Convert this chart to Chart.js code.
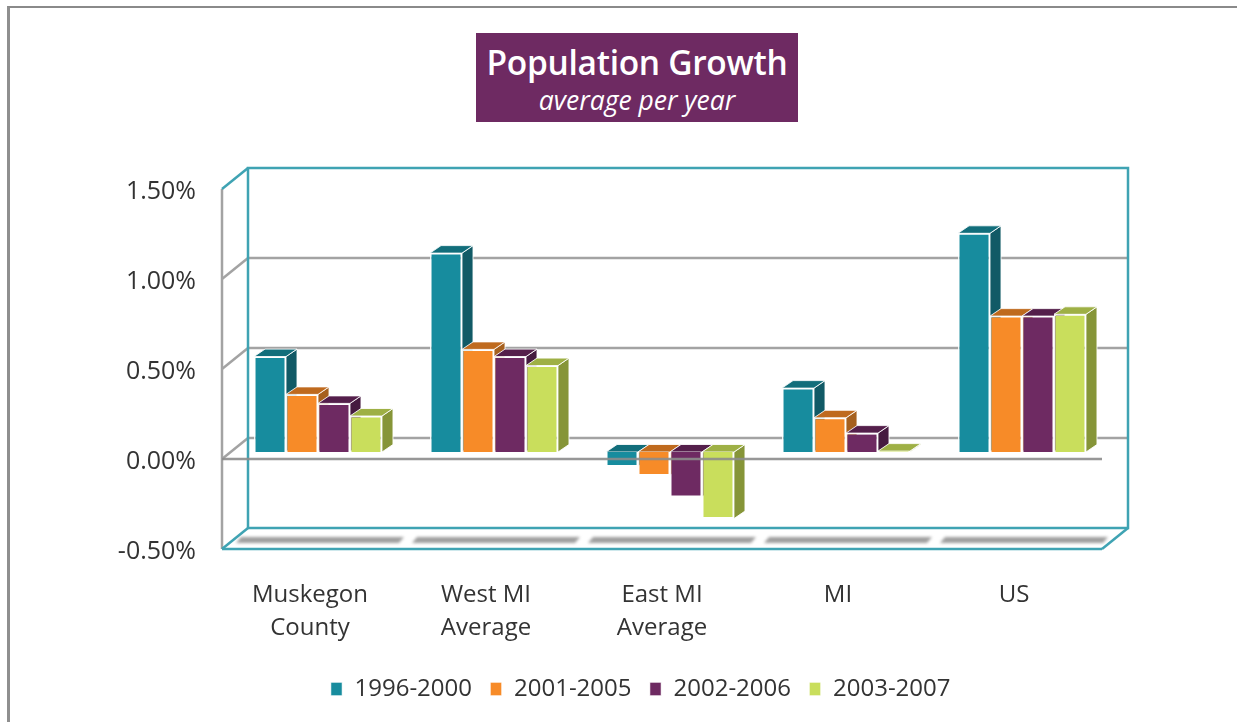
<!DOCTYPE html>
<html>
<head>
<meta charset="utf-8">
<title>Population Growth</title>
<script src="https://cdn.jsdelivr.net/npm/chart.js@4"></script>
<style>
    html, body { margin: 0; padding: 0; background: #fff; overflow: hidden; }
    #page { position: relative; width: 1237px; height: 722px; overflow: hidden; }
    #page canvas { position: absolute; left: 0; top: 0; }
    #edge { position: absolute; left: 7px; top: 6px; width: 1240px; height: 730px; border-left: 3px solid #8f8f8f; border-top: 2px solid #8a8a8a; }
    #title { position: absolute; left: 476px; top: 33px; width: 322px; height: 89px; background: #6e2a62; color: #fff; text-align: center; font-family: "Open Sans", sans-serif; }
    #title b { display: block; font-size: 33.5px; line-height: 38px; margin-top: 10px; letter-spacing: -0.3px; font-weight: 600; }
    #title i { display: block; font-size: 26.5px; line-height: 32px; margin-top: 3px; }
</style>
</head>
<body>
<div id="page">
    <div id="edge"></div>
    <div id="title"><b>Population Growth</b><i>average per year</i></div>
    <canvas id="growthChart" width="1237" height="722"></canvas>
</div>
<script>
const categories = [['Muskegon', 'County'], ['West MI', 'Average'], ['East MI', 'Average'], ['MI'], ['US']];
const periods = ['1996-2000', '2001-2005', '2002-2006', '2003-2007'];
const values1996 = [0.53, 1.105, -0.08, 0.355, 1.215];
const values2001 = [0.32, 0.57, -0.13, 0.19, 0.755];
const values2002 = [0.27, 0.53, -0.25, 0.105, 0.755];
const values2003 = [0.20, 0.48, -0.37, 0.005, 0.765];

const fronts = ['#178c9e', '#f78b28', '#6e2a62', '#c9de5c'];
const tops = ['#126e7b', '#bf6a1e', '#541f4b', '#9eb045'];
const sides = ['#115a66', '#a6601e', '#451a40', '#869538'];

const teal = '#3fa3b3';
const grey = '#a3a3a3';

// the bars stand in the middle of the box, so front and back are offset from them
const depth = { dx: 11, dy: 7.5 };
const front = { dx: -8, dy: 7 };
const back = { dx: 18, dy: -14 };

function line(ctx, x1, y1, x2, y2, color, width) {
    ctx.beginPath();
    ctx.moveTo(x1, y1);
    ctx.lineTo(x2, y2);
    ctx.strokeStyle = color;
    ctx.lineWidth = width;
    ctx.stroke();
}

function poly(ctx, points, color) {
    ctx.beginPath();
    points.forEach((p, i) => i ? ctx.lineTo(p[0], p[1]) : ctx.moveTo(p[0], p[1]));
    ctx.closePath();
    ctx.fillStyle = color;
    ctx.fill();
    ctx.strokeStyle = 'rgba(255,255,255,0.85)';
    ctx.lineWidth = 1;
    ctx.stroke();
}

const boxPlugin = {
    id: 'box3d',
    beforeDatasetsDraw(chart) {
        const ctx = chart.ctx;
        const xs = chart.scales.x;
        const ys = chart.scales.y;
        const left = xs.left, right = xs.right;
        const high = ys.getPixelForValue(ys.max), low = ys.getPixelForValue(ys.min);
        ctx.save();

        // grid on back wall and left wall, top and bottom are done in teal below
        ys.ticks.forEach((tick) => {
            const y = ys.getPixelForValue(tick.value);
            if (tick.value !== ys.max && tick.value !== ys.min) {
                line(ctx, left + back.dx, y + back.dy, right + back.dx, y + back.dy, grey, 2.5);
                line(ctx, left + front.dx, y + front.dy, left + back.dx, y + back.dy, grey, 2.5);
            }
        });
        line(ctx, left + front.dx, high + front.dy, left + front.dx, low + front.dy, grey, 2.5);

        // floor shadows
        ctx.save();
        ctx.filter = 'blur(1.5px)';
        categories.forEach((c, i) => {
            const cx = xs.getPixelForValue(i) + 2;
            ctx.beginPath();
            ctx.moveTo(cx - 84, low + 1);
            ctx.lineTo(cx - 79, low - 5);
            ctx.lineTo(cx + 84, low - 5);
            ctx.lineTo(cx + 79, low + 1);
            ctx.closePath();
            ctx.fillStyle = '#9f9f9f';
            ctx.fill();
        });
        ctx.restore();

        // back wall and floor outline
        ctx.lineJoin = 'miter';
        ctx.strokeStyle = teal;
        ctx.lineWidth = 2.5;
        ctx.strokeRect(left + back.dx, high + back.dy, right - left, low - high);
        line(ctx, left + front.dx, high + front.dy, left + back.dx, high + back.dy, teal, 2.5);
        line(ctx, left + front.dx, low + front.dy, left + back.dx, low + back.dy, teal, 2.5);
        line(ctx, left + front.dx, low + front.dy, right + front.dx, low + front.dy, teal, 2.5);
        line(ctx, right + front.dx, low + front.dy, right + back.dx, low + back.dy, teal, 2.5);

        // top and side faces, front faces come from the bars themselves
        chart.data.datasets.forEach((set, d) => {
            chart.getDatasetMeta(d).data.forEach((bar) => {
                const l = bar.x - bar.width / 2, r = bar.x + bar.width / 2;
                const upper = Math.min(bar.y, bar.base), lower = Math.max(bar.y, bar.base);
                poly(ctx, [[r, upper], [r + depth.dx, upper - depth.dy], [r + depth.dx, lower - depth.dy], [r, lower]], sides[d]);
                poly(ctx, [[l, upper], [l + depth.dx, upper - depth.dy], [r + depth.dx, upper - depth.dy], [r, upper]], tops[d]);
            });
        });
        ctx.restore();
    },
    afterDatasetsDraw(chart) {
        // the front zero line passes over the negative bars
        const ys = chart.scales.y;
        const xs = chart.scales.x;
        const y = ys.getPixelForValue(0) + front.dy;
        chart.ctx.save();
        line(chart.ctx, xs.left + front.dx, y, xs.right + front.dx, y, 'rgba(140,140,140,0.9)', 2.5);
        chart.ctx.restore();
    }
};

function makeSet(label, values, i) {
    return {
        label: label,
        data: values,
        backgroundColor: fronts[i],
        borderColor: 'rgba(255,255,255,0.9)',
        borderWidth: 1.5,
        categoryPercentage: 0.727,
        barPercentage: 1
    };
}

const fontFace = { family: '"Open Sans", sans-serif', size: 24 };

new Chart(document.getElementById('growthChart'), {
    type: 'bar',
    data: {
        labels: categories,
        datasets: [
            makeSet(periods[0], values1996, 0),
            makeSet(periods[1], values2001, 1),
            makeSet(periods[2], values2002, 2),
            makeSet(periods[3], values2003, 3)
        ]
    },
    plugins: [boxPlugin],
    options: {
        responsive: false,
        animation: false,
        layout: { padding: { left: 44, right: 0, top: 182, bottom: 11 } },
        plugins: {
            tooltip: { enabled: false },
            legend: {
                position: 'bottom',
                labels: {
                    color: '#333',
                    font: fontFace,
                    boxWidth: 12,
                    boxHeight: 14,
                    padding: 18
                }
            }
        },
        scales: {
            x: {
                grid: { display: false },
                border: { display: false },
                ticks: {
                    color: '#333',
                    font: Object.assign({ lineHeight: 1.4 }, fontFace),
                    padding: 28,
                    labelOffset: -8,
                    maxRotation: 0,
                    autoSkip: false
                },
                afterFit(scale) { scale.height = 117; }
            },
            y: {
                min: -0.5,
                max: 1.5,
                grid: { display: false },
                border: { display: false },
                ticks: {
                    stepSize: 0.5,
                    color: '#333',
                    font: { family: '"Open Sans", sans-serif', size: 25 },
                    padding: 26,
                    labelOffset: 9.5,
                    callback: (v) => v.toFixed(2) + '%'
                },
                afterFit(scale) { scale.width = 186; }
            },
            // empty axis, only keeps the room on the right so the legend stays centred under the page
            spare: {
                position: 'right',
                min: 0,
                max: 1,
                grid: { display: false },
                border: { display: false },
                ticks: { display: false },
                afterFit(scale) { scale.width = 127; }
            }
        }
    }
});
</script>
</body>
</html>
